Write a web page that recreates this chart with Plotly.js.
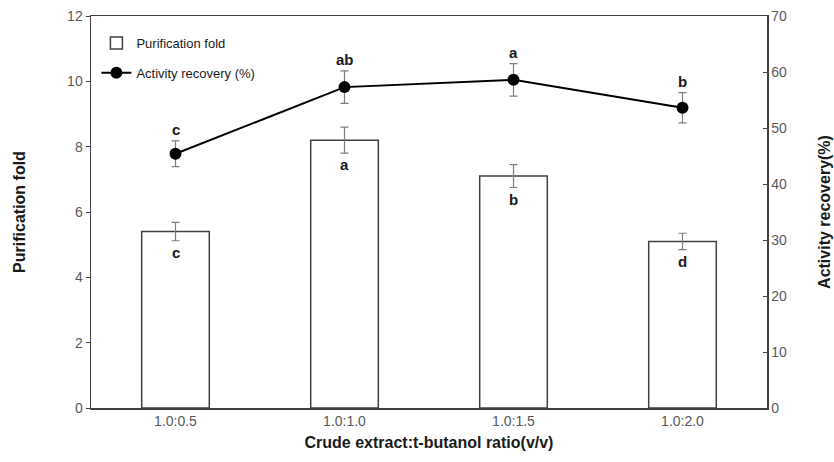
<!DOCTYPE html>
<html>
<head>
<meta charset="utf-8">
<script src="https://cdn.plot.ly/plotly-3.0.1.min.js"></script>
<style>html,body{margin:0;padding:0;background:#fff;}#chart{width:834px;height:462px;}</style>
</head>
<body>
<div id="chart"></div>
<script>
const categories = ["1.0:0.5", "1.0:1.0", "1.0:1.5", "1.0:2.0"];
const purificationFold = [5.4, 8.2, 7.1, 5.1];
const purificationErr = [0.28, 0.4, 0.35, 0.25];
const purificationLetters = ["c", "a", "b", "d"];
const activityRecovery = [45.4, 57.3, 58.6, 53.6];
const activityErr = [2.3, 2.9, 2.9, 2.7];
const activityLetters = ["c", "ab", "a", "b"];

const FONT = "Liberation Sans, Arial, sans-serif";

const traces = [
  {
    type: "bar", name: "Purification fold", x: categories, y: purificationFold,
    width: 0.4, legend: "legend",
    marker: { color: "#ffffff", line: { color: "#404040", width: 1.5 } },
    error_y: { type: "data", array: purificationErr, visible: true, color: "#7f7f7f", thickness: 1.2, width: 4 },
    yaxis: "y"
  },
  {
    type: "scatter", mode: "lines+markers", name: "Activity recovery (%)", x: categories, y: activityRecovery,
    legend: "legend2",
    line: { color: "#000000", width: 2 },
    marker: { color: "#000000", size: 12, symbol: "circle" },
    error_y: { type: "data", array: activityErr, visible: true, color: "#7f7f7f", thickness: 1.2, width: 4 },
    yaxis: "y2"
  }
];

const annotations = [];
categories.forEach((c, i) => {
  annotations.push({
    x: c, y: purificationFold[i] - purificationErr[i], xref: "x", yref: "y",
    text: purificationLetters[i], showarrow: false, yanchor: "top", yshift: -1,
    font: { family: FONT, size: 15, color: "#1a1a1a", weight: "bold" }
  });
  annotations.push({
    x: c, y: activityRecovery[i] + activityErr[i], xref: "x", yref: "y2",
    text: activityLetters[i], showarrow: false, yanchor: "bottom", yshift: 1,
    font: { family: FONT, size: 15, color: "#1a1a1a", weight: "bold" }
  });
});

const legendFont = { family: FONT, size: 13, color: "#1a1a1a" };

const layout = {
  width: 834, height: 462,
  margin: { l: 91, r: 67, t: 16, b: 54 },
  paper_bgcolor: "#ffffff", plot_bgcolor: "#ffffff",
  font: { family: FONT, size: 14, color: "#595959" },
  showlegend: true,
  legend: {
    x: 0.008, y: 0.931, xanchor: "left", yanchor: "middle",
    bgcolor: "rgba(0,0,0,0)", font: legendFont, itemwidth: 30
  },
  legend2: {
    x: 0.008, y: 0.855, xanchor: "left", yanchor: "middle",
    bgcolor: "rgba(0,0,0,0)", font: legendFont, itemwidth: 30
  },
  bargap: 0.6,
  xaxis: {
    showline: true, linecolor: "#404040", linewidth: 1.5, mirror: true,
    ticks: "", showgrid: false, zeroline: false,
    tickfont: { family: FONT, size: 14, color: "#595959" },
    title: { text: "Crude extract:t-butanol ratio(v/v)", font: { family: FONT, size: 16, color: "#1a1a1a", weight: "bold" }, standoff: 8 }
  },
  yaxis: {
    range: [0, 12], dtick: 2, showline: true, linecolor: "#404040", linewidth: 1.5,
    ticks: "outside", ticklen: 4, tickcolor: "#404040", showgrid: false, zeroline: false,
    tickfont: { family: FONT, size: 14, color: "#595959" },
    title: { text: "Purification fold", font: { family: FONT, size: 16, color: "#1a1a1a", weight: "bold" }, standoff: 37 }
  },
  yaxis2: {
    range: [0, 70], dtick: 10, overlaying: "y", side: "right",
    showline: true, linecolor: "#404040", linewidth: 1.5,
    ticks: "inside", ticklen: 4, tickcolor: "#404040", showgrid: false, zeroline: false,
    tickfont: { family: FONT, size: 14, color: "#595959" },
    title: { text: "Activity recovery(%)", font: { family: FONT, size: 16, color: "#1a1a1a", weight: "bold" }, standoff: 32 }
  },
  annotations: annotations
};

Plotly.newPlot("chart", traces, layout, { displayModeBar: false, staticPlot: true });
</script>
</body>
</html>
